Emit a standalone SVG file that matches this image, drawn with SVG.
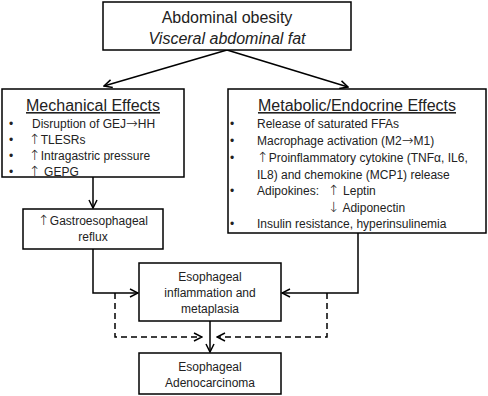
<svg xmlns="http://www.w3.org/2000/svg" width="488" height="396" viewBox="0 0 488 396">
<defs>
<marker id="ah" markerWidth="10" markerHeight="10" refX="9" refY="5" orient="auto" markerUnits="userSpaceOnUse">
<path d="M1,1 L9,5 L1,9" fill="none" stroke="#000" stroke-width="1.5"/>
</marker>
</defs>
<style>
text{font-family:"Liberation Sans",Arial,sans-serif;fill:#222;}
.ar{font-family:"DejaVu Sans",sans-serif;font-size:14px;font-weight:200;}
.box{fill:#fff;stroke:#000;stroke-width:1.5;}
.t17{font-size:16px;}
.t13{font-size:12px;}
.ln{fill:none;stroke:#000;stroke-width:1.5;}
.dash{fill:none;stroke:#000;stroke-width:1.5;stroke-dasharray:6,4;}
</style>
<rect width="488" height="396" fill="#fff"/>
<g id="connectors">
<path class="ln" d="M227,50 L104,86" marker-end="url(#ah)"/>
<path class="ln" d="M227,50 L348,87" marker-end="url(#ah)"/>
<path class="ln" d="M93,177 L93,208" marker-end="url(#ah)"/>
<path class="ln" d="M93,249 L93,293 L138,293" marker-end="url(#ah)"/>
<path class="ln" d="M358,233 L358,293 L282,293" marker-end="url(#ah)"/>
<path class="ln" d="M210,321 L210,352" marker-end="url(#ah)"/>
<path class="dash" d="M115,293 L115,337 L202,337" marker-end="url(#ah)"/>
<path class="dash" d="M327,293 L327,337 L217,337" marker-end="url(#ah)"/>
</g>
<g id="obesity">
<rect class="box" x="103" y="2" width="248" height="48"/>
<text class="t17" x="227" y="23" text-anchor="middle">Abdominal obesity</text>
<text class="t17" x="227" y="44" text-anchor="middle" font-style="italic">Visceral abdominal fat</text>
</g>
<g id="mechanical">
<rect class="box" x="2" y="89" width="182" height="88"/>
<text class="t17" x="93" y="111" text-anchor="middle" text-decoration="underline">Mechanical Effects</text>
<text class="t13" x="9" y="128">•</text>
<text class="t13" x="32" y="128">Disruption of GEJ<tspan class="ar">→</tspan>HH</text>
<text class="t13" x="9" y="144">•</text>
<text class="t13" x="29" y="144"><tspan class="ar">↑</tspan>TLESRs</text>
<text class="t13" x="9" y="160">•</text>
<text class="t13" x="29" y="160"><tspan class="ar">↑</tspan>Intragastric pressure</text>
<text class="t13" x="9" y="176">•</text>
<text class="t13" x="29" y="176"><tspan class="ar">↑</tspan> GEPG</text>
</g>
<g id="metabolic">
<rect class="box" x="228" y="89" width="258" height="144"/>
<text class="t17" x="357" y="111" text-anchor="middle" text-decoration="underline">Metabolic/Endocrine Effects</text>
<text class="t13" x="230" y="128">•</text>
<text class="t13" x="257" y="128">Release of saturated FFAs</text>
<text class="t13" x="230" y="145">•</text>
<text class="t13" x="257" y="145">Macrophage activation (M2<tspan class="ar">→</tspan>M1)</text>
<text class="t13" x="230" y="162">•</text>
<text class="t13" x="257" y="162"><tspan class="ar">↑</tspan>Proinflammatory cytokine (TNFα, IL6,</text>
<text class="t13" x="257" y="179">IL8) and chemokine (MCP1) release</text>
<text class="t13" x="230" y="195">•</text>
<text class="t13" x="257" y="195">Adipokines:</text>
<text class="t13" x="328" y="195"><tspan class="ar">↑</tspan> Leptin</text>
<text class="t13" x="328" y="212"><tspan class="ar">↓</tspan> Adiponectin</text>
<text class="t13" x="230" y="228">•</text>
<text class="t13" x="257" y="228">Insulin resistance, hyperinsulinemia</text>
</g>
<g id="reflux">
<rect class="box" x="23" y="209" width="140" height="40"/>
<text class="t13" x="93" y="225" text-anchor="middle"><tspan class="ar">↑</tspan>Gastroesophageal</text>
<text class="t13" x="93" y="241" text-anchor="middle">reflux</text>
</g>
<g id="inflammation">
<rect class="box" x="139" y="263" width="142" height="58"/>
<text class="t13" x="210" y="281" text-anchor="middle">Esophageal</text>
<text class="t13" x="210" y="297" text-anchor="middle">inflammation and</text>
<text class="t13" x="210" y="313" text-anchor="middle">metaplasia</text>
</g>
<g id="adenocarcinoma">
<rect class="box" x="139" y="353" width="142" height="41"/>
<text class="t13" x="210" y="371" text-anchor="middle">Esophageal</text>
<text class="t13" x="210" y="387" text-anchor="middle">Adenocarcinoma</text>
</g>
</svg>
